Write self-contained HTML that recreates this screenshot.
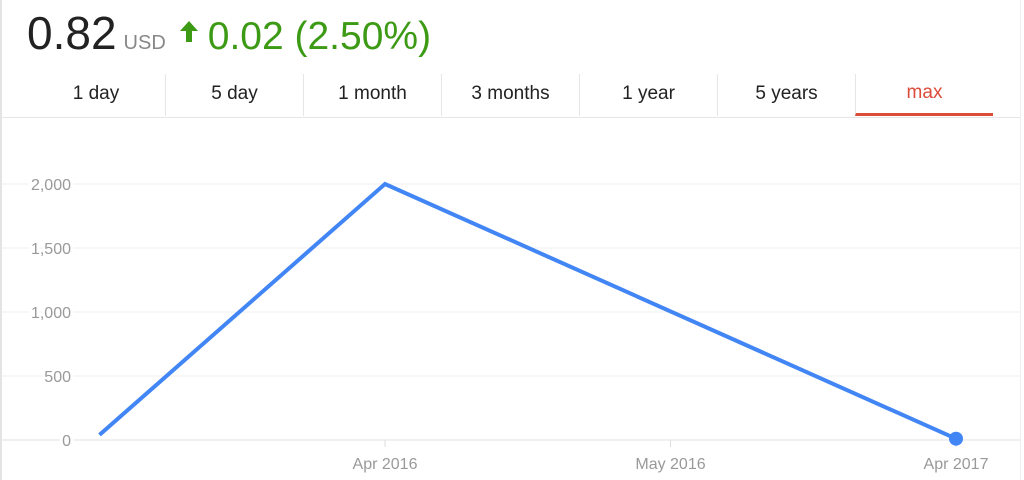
<!DOCTYPE html>
<html><head><meta charset="utf-8"><style>
body{margin:0;width:1024px;height:480px;background:#fff;font-family:"Liberation Sans",Arial,sans-serif;overflow:hidden;position:relative}
.hdr{position:absolute;left:27px;top:6px;white-space:nowrap}
.price{font-size:46px;color:#222}
.usd{font-size:20px;color:#888;margin-left:7px}
.chg{font-size:39px;color:#3c9a15;margin-left:2px}
.tabs{position:absolute;left:27px;top:74px;height:42px;display:flex}
.tab{width:138px;text-align:center;font-size:19px;color:#222;line-height:40px;border-left:1px solid #e6e6e6;box-sizing:border-box}
.tab:first-child{border-left:none}
.tab.sel{color:#dd4b39;border-bottom:3px solid #dd4b39;line-height:38px}
</style></head><body>
<div style="position:absolute;left:0;top:0;width:2px;height:480px;background:#e4e4e4"></div>
<div style="position:absolute;left:1020px;top:0;width:1px;height:480px;background:#eee"></div>
<div class="hdr">
<span class="price">0.82</span><span class="usd">USD</span><svg width="26" height="22" style="margin-left:14px;vertical-align:6px"><path d="M9 0 L18 10 L12 10 L12 21 L6 21 L6 10 L0 10 Z" fill="#3c9a15"/></svg><span class="chg">0.02 (2.50%)</span>
</div>
<div class="tabs">
<div class="tab">1 day</div>
<div class="tab">5 day</div>
<div class="tab">1 month</div>
<div class="tab">3 months</div>
<div class="tab">1 year</div>
<div class="tab">5 years</div>
<div class="tab sel">max</div>
</div>
<div style="position:absolute;left:0;top:117px;width:1020px;height:1px;background:#e6e6e6"></div>
<svg id="chart" width="1024" height="480" style="position:absolute;left:0;top:0"></svg>
<script>
const xTickLabels=["Apr 2016","May 2016","Apr 2017"];
const xTickVals=[0,1,2];
const yTicks=[0,500,1000,1500,2000];
const yTickLabels=["0","500","1,000","1,500","2,000"];
const seriesX=[-1,0,2];
const seriesY=[40,2000,10];
const NS="http://www.w3.org/2000/svg";
const svg=document.getElementById('chart');
const xs=v=>385+v*285.5;
const ys=v=>440-v*(256/2000);
function mk(t,a){const e=document.createElementNS(NS,t);for(const k in a)e.setAttribute(k,a[k]);svg.appendChild(e);return e;}
yTicks.forEach((v,i)=>{
  const g=mk('line',{x1:2,x2:1020,y1:ys(v),y2:ys(v),stroke:i===0?'#e2e2e2':'#efefef','stroke-width':1});
  
  
  const t=mk('text',{x:71,y:ys(v)+6,'text-anchor':'end','font-size':16,fill:'#999','font-family':'Liberation Sans, sans-serif',stroke:'#fff','stroke-width':6,'paint-order':'stroke'});
  t.textContent=yTickLabels[i];
  
  
});
xTickVals.forEach((v,i)=>{
  const l=mk('line',{x1:xs(v),x2:xs(v),y1:440,y2:447,stroke:'#ddd','stroke-width':1});
  
  
  const t=mk('text',{x:xs(v),y:469,'text-anchor':'middle','font-size':16,fill:'#999','font-family':'Liberation Sans, sans-serif'});
  t.textContent=xTickLabels[i];
  
  
});
const pl=mk('polyline',{points:seriesX.map((x,i)=>xs(x)+','+ys(seriesY[i])).join(' '),fill:'none',stroke:'#4285f4','stroke-width':4,'stroke-linejoin':'miter'});


const n=seriesX.length-1;
const c=mk('circle',{cx:xs(seriesX[n]),cy:ys(seriesY[n]),r:7,fill:'#4285f4'});


</script>
</body></html>
